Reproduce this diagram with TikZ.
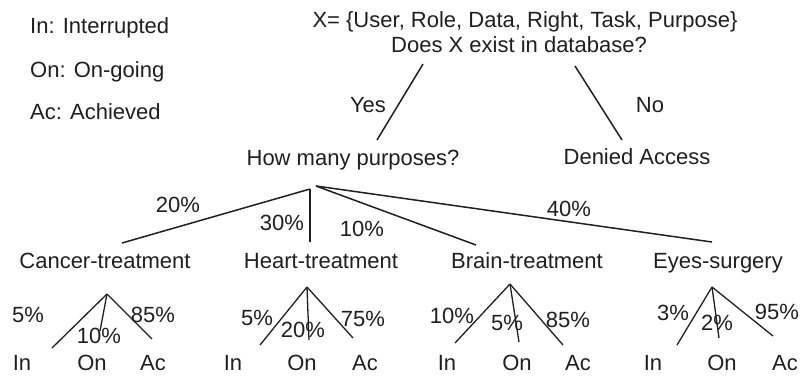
\documentclass[tikz,border=0pt]{standalone}
\usepackage{fontspec}
\setmainfont{Liberation Sans}
\begin{document}
\begin{tikzpicture}[x=1pt,y=-1pt,
  txt/.style={anchor=base,inner sep=0pt,text=black!88,font=\fontsize{22}{26}\selectfont},
  legend/.style={txt,anchor=base west},
  branch/.style={draw=black!88,line width=1.5pt},
  twig/.style={draw=black!88,line width=1.3pt}]
\useasboundingbox (0,0) rectangle (800,376);

% legend
\node[legend] (lgIn) at (30,33)  {In: Interrupted};
\node[legend] (lgOn) at (30,77)  {On: On-going};
\node[legend] (lgAc) at (30,119) {Ac: Achieved};

% root question
\node[txt] (xset)  at (525,27) {X= \{User, Role, Data, Right, Task, Purpose\}};
\node[txt] (query) at (519,52) {Does X exist in database?};

% first decision
\coordinate (yesA) at (423,64);  \coordinate (yesB) at (377,140);
\coordinate (noA)  at (575,66);  \coordinate (noB)  at (622,140);
\draw[branch] (yesA) -- (yesB);
\draw[branch] (noA) -- (noB);
\node[txt] (yes) at (368,112) {Yes};
\node[txt] (no)  at (650,112) {No};
\node[txt] (purp)   at (353,165) {How many purposes?};
\node[txt] (denied) at (637,164) {Denied Access};

% purposes
\coordinate (pA) at (310,189);
\coordinate (pB) at (316,186);
\coordinate (cEnd) at (122,243);
\coordinate (hEnd) at (310,242);
\coordinate (bEnd) at (476,245);
\coordinate (eEnd) at (712,242);
\draw[branch] (pA) -- (cEnd);
\draw[branch] (pA) -- (hEnd);
\draw[branch] (pB) -- (bEnd);
\draw[branch] (pB) -- (eEnd);
\node[txt] (w20) at (178,212) {20\%};
\node[txt] (w30) at (282,230) {30\%};
\node[txt] (w10) at (362,236) {10\%};
\node[txt] (w40) at (569,216) {40\%};

\node[txt] (cancer) at (105,268) {Cancer-treatment};
\node[txt] (heart)  at (321,268) {Heart-treatment};
\node[txt] (brain)  at (527,268) {Brain-treatment};
\node[txt] (eyes)   at (718,268) {Eyes-surgery};

% Cancer-treatment outcomes
\coordinate (cTop) at (107,294);
\coordinate (cIn) at (52,348); \coordinate (cOn) at (100,331); \coordinate (cAc) at (152,339);
\draw[twig] (cTop) -- (cIn);
\draw[twig] (cTop) -- (cOn);
\draw[twig] (cTop) -- (cAc);
\node[txt] at (28,322)  (cP1) {5\%};
\node[txt] at (99,343)  (cP2) {10\%};
\node[txt] at (153,322) (cP3) {85\%};
\node[txt] (cLIn) at (22,370)  {In};
\node[txt] (cLOn) at (92,370)  {On};
\node[txt] (cLAc) at (153,370) {Ac};

% Heart-treatment outcomes
\coordinate (hTop) at (307,287);
\coordinate (hIn) at (260,345); \coordinate (hOn) at (309,340); \coordinate (hAc) at (353,338);
\draw[twig] (hTop) -- (hIn);
\draw[twig] (hTop) -- (hOn);
\draw[twig] (hTop) -- (hAc);
\node[txt] (hP1) at (257,325) {5\%};
\node[txt] (hP2) at (303,337) {20\%};
\node[txt] (hP3) at (363,326) {75\%};
\node[txt] (hLIn) at (233,370) {In};
\node[txt] (hLOn) at (302,370) {On};
\node[txt] (hLAc) at (365,370) {Ac};

% Brain-treatment outcomes
\coordinate (bTop) at (510,284);
\coordinate (bIn) at (455,343); \coordinate (bOn) at (519,342); \coordinate (bAc) at (563,345);
\draw[twig] (bTop) -- (bIn);
\draw[twig] (bTop) -- (bOn);
\draw[twig] (bTop) -- (bAc);
\node[txt] (bP1) at (452,323) {10\%};
\node[txt] (bP2) at (507,330) {5\%};
\node[txt] (bP3) at (568,327) {85\%};
\node[txt] (bLIn) at (447,370) {In};
\node[txt] (bLOn) at (517,370) {On};
\node[txt] (bLAc) at (578,370) {Ac};

% Eyes-surgery outcomes
\coordinate (eTop) at (712,287);
\coordinate (eIn) at (677,345); \coordinate (eOn) at (719,338); \coordinate (eAc) at (773,336);
\draw[twig] (eTop) -- (eIn);
\draw[twig] (eTop) -- (eOn);
\draw[twig] (eTop) -- (eAc);
\node[txt] (eP1) at (673,320) {3\%};
\node[txt] (eP2) at (717,330) {2\%};
\node[txt] (eP3) at (777,319) {95\%};
\node[txt] (eLIn) at (653,370) {In};
\node[txt] (eLOn) at (722,370) {On};
\node[txt] (eLAc) at (785,370) {Ac};
\end{tikzpicture}
\end{document}
